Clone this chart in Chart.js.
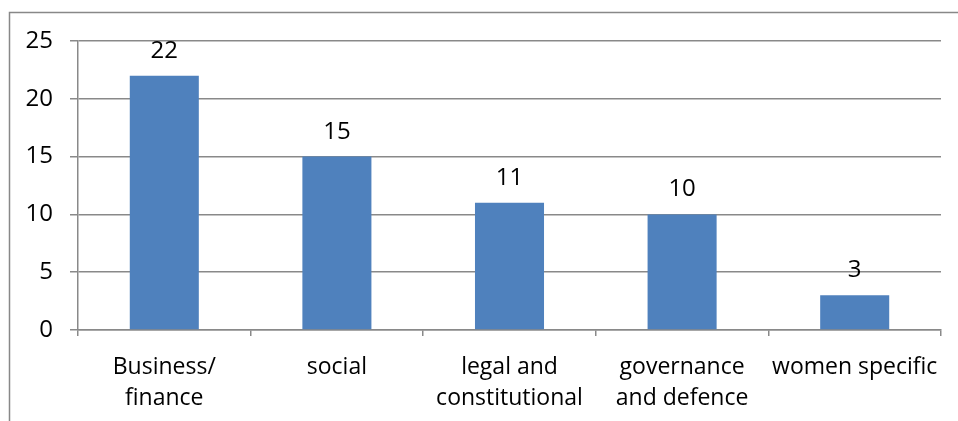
<!DOCTYPE html>
<html>
<head>
<meta charset="utf-8">
<script src="https://cdn.jsdelivr.net/npm/chart.js@4/dist/chart.umd.min.js"></script>
<style>
html,body{margin:0;padding:0;background:#fff;}
#wrap{width:958px;height:421px;position:relative;}
</style>
</head>
<body>
<div id="wrap"><canvas id="c" width="958" height="421"></canvas></div>
<script>
const categories = [["Business/","finance"],"social",["legal and","constitutional"],["governance","and defence"],"women specific"];
const values = [22, 15, 11, 10, 3];
const yTicks = [0, 5, 10, 15, 20, 25];

const FONT = "'Open Sans', sans-serif";
const GRID = '#898989';

const frame = {
  id: 'frame',
  beforeDraw(chart) {
    const ctx = chart.ctx;
    ctx.save();
    ctx.fillStyle = '#fff';
    ctx.fillRect(0, 0, chart.width, chart.height);
    ctx.strokeStyle = '#888';
    ctx.lineWidth = 1.5;
    ctx.strokeRect(9.5, 12.5, 1000, 500);
    ctx.restore();
  }
};

const labels = {
  id: 'labels',
  afterDatasetsDraw(chart) {
    const ctx = chart.ctx;
    const meta = chart.getDatasetMeta(0);
    ctx.save();
    ctx.fillStyle = '#000';
    ctx.font = '24px ' + FONT;
    ctx.textAlign = 'center';
    ctx.textBaseline = 'alphabetic';
    meta.data.forEach((bar, i) => {
      ctx.fillText(String(values[i]), bar.x, bar.y - 18);
    });
    ctx.restore();
  }
};

new Chart(document.getElementById('c'), {
  type: 'bar',
  data: {
    labels: categories,
    datasets: [{
      data: values,
      backgroundColor: '#4F81BD',
      borderWidth: 0,
      categoryPercentage: 1,
      barPercentage: 0.4
    }]
  },
  options: {
    responsive: false,
    animation: false,
    devicePixelRatio: 1,
    layout: { padding: { top: 41, right: 17, left: 0, bottom: 0 } },
    plugins: { legend: { display: false }, tooltip: { enabled: false } },
    scales: {
      x: {
        offset: true,
        grid: { offset: true, drawOnChartArea: false, drawTicks: true, tickLength: 6, color: GRID, lineWidth: 1.5 },
        border: { color: GRID, width: 1.5 },
        ticks: { color: '#000', font: { family: FONT, size: 23, lineHeight: '31px' }, padding: 16, maxRotation: 0, autoSkip: false },
        afterFit(s) { s.height = 91; }
      },
      y: {
        min: 0, max: 25,
        afterBuildTicks(s) { s.ticks = yTicks.map(v => ({ value: v })); },
        grid: { color: GRID, lineWidth: 1.5, tickLength: 8 },
        border: { color: GRID, width: 1.5 },
        ticks: { color: '#000', font: { family: FONT, size: 24 }, padding: 17 },
        afterFit(s) { s.width = 78; }
      }
    }
  },
  plugins: [frame, labels]
});
</script>
</body>
</html>
